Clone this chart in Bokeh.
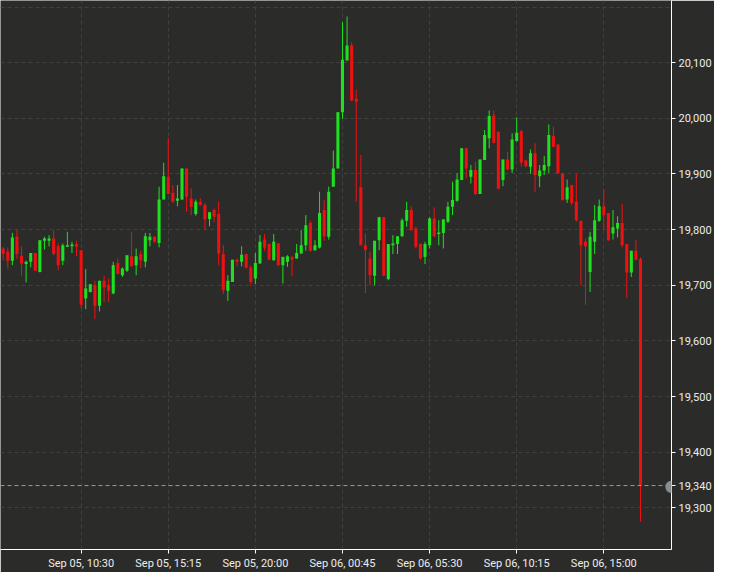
import pandas as pd
from bokeh.plotting import figure
from bokeh.models import (Range1d, FixedTicker, DatetimeTickFormatter, NumeralTickFormatter,
                          ColumnDataSource, Span, Label)
from bokeh.embed import file_html
from bokeh.resources import INLINE

# ---- data: 15-minute candles, Sep 05 06:15 -> Sep 06 17:00 ----
opens = [19766, 19760, 19744, 19787, 19753, 19738, 19742, 19758, 19724, 19780,
         19780, 19784, 19770, 19744, 19769, 19770, 19774, 19763, 19676, 19688,
         19700, 19663, 19708, 19700, 19685, 19740, 19718, 19726, 19752, 19736,
         19756, 19742, 19781, 19787, 19776, 19854, 19895,
         19866, 19852, 19854, 19910, 19856, 19828, 19850, 19844, 19819, 19835,
         19828, 19756, 19690, 19706, 19746, 19742, 19756, 19732, 19712, 19739,
         19782, 19774, 19745, 19775, 19736, 19742, 19751, 19748, 19757, 19772,
         19812, 19763, 19768, 19835, 19787, 19877, 19910, 20011, 20104, 20131,
         20035,
         19876, 19772, 19748, 19717, 19781, 19822, 19711, 19772, 19774, 19788,
         19816, 19835, 19802, 19774, 19751, 19772, 19820, 19792, 19794, 19814,
         19841, 19852, 19889, 19946, 19895, 19907, 19864, 19925, 19964, 20005,
         19976, 19889,
         19926, 19908, 19959, 19977, 19924, 19913, 19937, 19896, 19906, 19914,
         19968, 19953, 19901, 19854, 19880, 19850, 19816, 19778, 19724, 19778,
         19816, 19842, 19830, 19793, 19802, 19812, 19774, 19723, 19762, 19747]
highs = [19769, 19768, 19794, 19799, 19770, 19744, 19758, 19758, 19781, 19787,
         19790, 19799, 19775, 19775, 19796, 19778, 19780, 19763, 19729, 19702,
         19708, 19708, 19717, 19712, 19742, 19748, 19732, 19754, 19796, 19766,
         19762, 19794, 19794, 19788, 19877, 19920, 19965,
         19880, 19880, 19910, 19910, 19874, 19854, 19856, 19848, 19832, 19838,
         19850, 19772, 19718, 19746, 19748, 19770, 19756, 19736, 19758, 19790,
         19792, 19775, 19792, 19776, 19751, 19754, 19752, 19774, 19799, 19826,
         19816, 19781, 19868, 19853, 19877, 19942, 20011, 20173, 20183, 20137,
         20051,
         19934, 19793, 19760, 19780, 19823, 19823, 19774, 19790, 19788, 19820,
         19850, 19842, 19805, 19775, 19778, 19822, 19840, 19817, 19819, 19850,
         19886, 19901, 19946, 19947, 19916, 19922, 19926, 19979, 20014, 20014,
         19976, 19926,
         19940, 19973, 20002, 19979, 19926, 19944, 19955, 19916, 19932, 19989,
         19985, 19953, 19901, 19890, 19880, 19900, 19816, 19784, 19796, 19844,
         19854, 19872, 19830, 19835, 19824, 19846, 19774, 19762, 19781, 19750]
lows = [19745, 19730, 19736, 19747, 19717, 19705, 19732, 19726, 19723, 19764,
        19770, 19754, 19727, 19736, 19769, 19758, 19752, 19659, 19657, 19687,
        19639, 19653, 19670, 19670, 19684, 19720, 19715, 19724, 19734, 19718,
        19731, 19732, 19770, 19776, 19768, 19854, 19864,
        19848, 19842, 19853, 19832, 19826, 19825, 19843, 19799, 19806, 19814,
        19736, 19684, 19672, 19706, 19734, 19734, 19730, 19700, 19702, 19739,
        19762, 19745, 19744, 19734, 19703, 19733, 19716, 19748, 19757, 19762,
        19760, 19762, 19766, 19780, 19782, 19877, 19910, 19999, 20104, 20031,
        19850,
        19772, 19686, 19700, 19700, 19763, 19717, 19709, 19756, 19756, 19787,
        19805, 19798, 19766, 19746, 19738, 19766, 19786, 19772, 19766, 19812,
        19826, 19850, 19889, 19892, 19883, 19862, 19864, 19925, 19946, 19955,
        19872, 19878,
        19907, 19902, 19958, 19913, 19912, 19900, 19868, 19876, 19898, 19902,
        19948, 19901, 19852, 19848, 19844, 19814, 19700, 19665, 19688, 19756,
        19814, 19800, 19780, 19782, 19786, 19768, 19677, 19715, 19745, 19275]
closes = [19756, 19744, 19786, 19756, 19739, 19742, 19758, 19726, 19781, 19784,
          19784, 19756, 19736, 19772, 19772, 19773, 19769, 19665, 19694, 19702,
          19663, 19708, 19696, 19690, 19736, 19720, 19730, 19754, 19734, 19752,
          19745, 19788, 19787, 19778, 19854, 19896, 19864,
          19850, 19856, 19910, 19859, 19841, 19850, 19844, 19818, 19831, 19823,
          19757, 19691, 19708, 19746, 19742, 19755, 19732, 19706, 19740, 19778,
          19768, 19746, 19778, 19736, 19751, 19752, 19746, 19758, 19772, 19808,
          19762, 19772, 19830, 19788, 19868, 19910, 20011, 20105, 20131, 20032,
          20030,
          19772, 19764, 19718, 19780, 19822, 19717, 19774, 19775, 19788, 19817,
          19835, 19799, 19769, 19748, 19774, 19820, 19788, 19795, 19818, 19841,
          19853, 19890, 19946, 19910, 19907, 19864, 19926, 19970, 20004, 19956,
          19874, 19926,
          19908, 19962, 19974, 19920, 19914, 19937, 19898, 19906, 19916, 19970,
          19949, 19901, 19853, 19876, 19848, 19817, 19772, 19770, 19787, 19817,
          19842, 19826, 19781, 19804, 19812, 19772, 19723, 19762, 19746, 19340]

times = pd.date_range("2024-09-05 06:15", periods=len(opens), freq="15min")

x_tick_times = ["2024-09-05 05:45", "2024-09-05 10:30", "2024-09-05 15:15",
                "2024-09-05 20:00", "2024-09-06 00:45", "2024-09-06 05:30",
                "2024-09-06 10:15", "2024-09-06 15:00"]
y_label_ticks = [19300, 19400, 19500, 19600, 19700, 19800, 19900, 20000, 20100]
y_grid_ticks = y_label_ticks + [20200]
last_price = 19340

# ---- styles ----
BG = "#2b2c2a"
UP = "#1fe01f"
DOWN = "#ee1111"
GRID = "#40413f"
TXT = "#ececec"
FONT = "Roboto"


def ms(t):
    return pd.Timestamp(t).value / 1e6


up = [c >= o for o, c in zip(opens, closes)]
src = ColumnDataSource(dict(
    t=times,
    o=opens, h=highs, l=lows, c=closes,
    top=[max(o, c) for o, c in zip(opens, closes)],
    bot=[min(o, c) for o, c in zip(opens, closes)],
    col=[UP if u else DOWN for u in up],
))

x_start = ms("2024-09-05 06:06:10")
x_end = ms("2024-09-06 18:41:24")

p = figure(width=714, height=572, x_axis_type="datetime", y_axis_location="right",
           x_range=Range1d(x_start, x_end), y_range=Range1d(19225.1, 20211.7),
           output_backend="svg", toolbar_location=None,
           min_border_left=0, min_border_top=0, min_border_right=43, min_border_bottom=22)
p.background_fill_color = BG
p.border_fill_color = BG
p.outline_line_color = None

p.segment(x0="t", y0="h", x1="t", y1="l", source=src, line_color="col", line_width=1)
p.vbar(x="t", width=10 * 60 * 1000, top="top", bottom="bot", source=src,
       fill_color="col", line_color=None)

p.add_layout(Span(location=last_price, dimension="width", line_color="#9a9a9a",
                  line_dash="4 3", line_width=1))
p.add_layout(Label(x=x_end, y=last_price, text="\u25cf", text_align="center",
                   text_baseline="middle", text_color="#8d8d8d", text_font_size="16px",
                   text_font="DejaVu Sans"))

# axes
xa = p.xaxis[0]
xa.ticker = FixedTicker(ticks=[ms(t) for t in x_tick_times])
fmt = "%b %d, %H:%M"
xa.formatter = DatetimeTickFormatter(milliseconds=fmt, seconds=fmt, minsec=fmt, minutes=fmt,
                                     hourmin=fmt, hours=fmt, days=fmt, months=fmt, years=fmt)
ya = p.yaxis[0]
ya.ticker = FixedTicker(ticks=sorted(y_label_ticks + [last_price]))
ya.formatter = NumeralTickFormatter(format="0,0")
for ax in (xa, ya):
    ax.axis_line_color = "#ffffff"
    ax.major_tick_line_color = "#ffffff"
    ax.minor_tick_line_color = None
    ax.major_tick_in = 0
    ax.major_tick_out = 4
    ax.major_label_text_color = TXT
    ax.major_label_text_font = FONT
    ax.major_label_text_font_size = "11px"
xa.major_label_standoff = 3
ya.major_label_standoff = 3

p.xgrid.grid_line_color = GRID
p.xgrid.grid_line_dash = "4 3"
p.ygrid.ticker = FixedTicker(ticks=y_grid_ticks)
p.ygrid.grid_line_color = GRID
p.ygrid.grid_line_dash = "4 3"

open("out.html", "w").write(file_html(p, INLINE))
